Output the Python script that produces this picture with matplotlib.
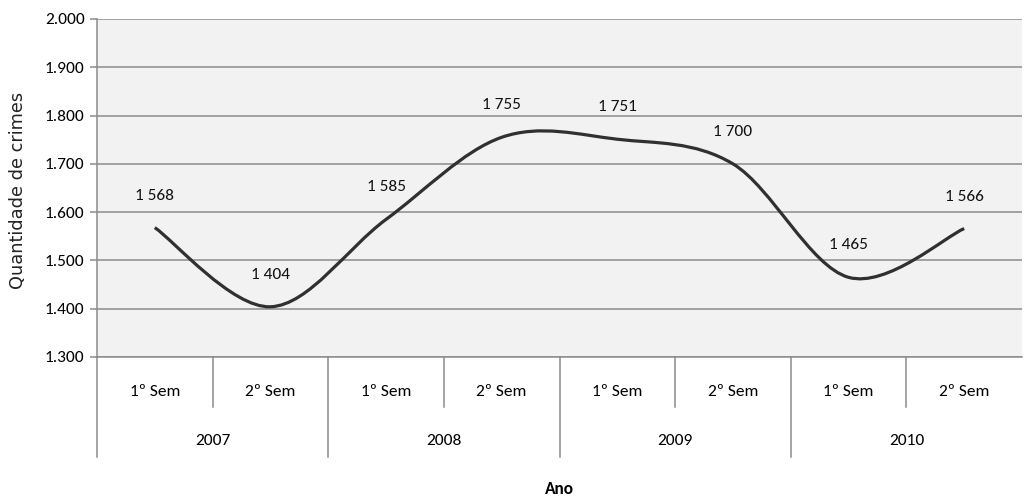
import matplotlib
matplotlib.use("Agg")
import matplotlib.pyplot as plt
import numpy as np
from matplotlib.path import Path
from matplotlib.patches import PathPatch

years = ["2007", "2008", "2009", "2010"]
semesters = ["1º Sem", "2º Sem"]
crimes = [1568, 1404, 1585, 1755, 1751, 1700, 1465, 1566]
y_ticks = [1300, 1400, 1500, 1600, 1700, 1800, 1900, 2000]

font = ["Carlito", "DejaVu Sans"]
fs = 12.5

fig = plt.figure(figsize=(10.24, 4.97), dpi=100)
ax = fig.add_axes([97 / 1024, 1 - 357 / 497, 925 / 1024, 338 / 497])
ax.set_facecolor("#f2f2f2")

n = len(crimes)
x = np.arange(n)
y = np.array(crimes, dtype=float)

# smoothed line like Excel (Catmull-Rom -> bezier)
verts = [(x[0], y[0])]
codes = [Path.MOVETO]
for i in range(n - 1):
    i0 = max(i - 1, 0)
    i3 = min(i + 2, n - 1)
    c1 = (x[i] + (x[i + 1] - x[i0]) / 6, y[i] + (y[i + 1] - y[i0]) / 6)
    c2 = (x[i + 1] - (x[i3] - x[i]) / 6, y[i + 1] - (y[i3] - y[i]) / 6)
    verts += [c1, c2, (x[i + 1], y[i + 1])]
    codes += [Path.CURVE4] * 3
ax.add_patch(PathPatch(Path(verts, codes), facecolor="none", edgecolor="#303030",
                       lw=2.3, capstyle="butt", zorder=3))

for xi, v in zip(x, crimes):
    lbl = f"{v:,}".replace(",", " ")
    ax.annotate(lbl, (xi, v), xytext=(0, 23), textcoords="offset points",
                ha="center", va="center", fontsize=fs, family=font, color="#111111")

ax.set_xlim(-0.5, n - 0.5)
ax.set_ylim(1300, 2000)
ax.set_yticks(y_ticks)
ax.set_yticklabels([f"{t:,}".replace(",", ".") for t in y_ticks], family=font, fontsize=fs)
ax.yaxis.grid(True, color="#8c8c8c", lw=1.1)
ax.set_axisbelow(True)
ax.tick_params(axis="y", length=5, color="#8c8c8c", width=1.1, pad=4)
ax.set_xticks([])
for s in ["top", "right"]:
    ax.spines[s].set_visible(False)
for s in ["left", "bottom"]:
    ax.spines[s].set_color("#8c8c8c")
    ax.spines[s].set_linewidth(1.1)

# multi-level category axis
tr = ax.get_xaxis_transform()
for b in range(n):
    xb = b - 0.5
    low = -0.296 if b % 2 == 0 else -0.148
    ax.plot([xb, xb], [0, low], transform=tr, color="#8c8c8c", lw=1.1, clip_on=False)
for i in range(n):
    ax.text(i, -0.1036, semesters[i % 2], transform=tr, ha="center", va="center",
            fontsize=fs, family=font)
for j, yr in enumerate(years):
    ax.text(2 * j + 0.5, -0.2485, yr, transform=tr, ha="center", va="center",
            fontsize=fs, family=font)
ax.text(0.5, -0.39, "Ano", transform=ax.transAxes, ha="center", va="center",
        fontsize=fs, family=font, fontweight="bold")

fig.text(18 / 1024, 1 - 190 / 497, "Quantidade de crimes", rotation=90,
         ha="center", va="center", fontsize=12.8, family="DejaVu Sans", color="#222222")

fig.savefig("out.png", dpi=100)
